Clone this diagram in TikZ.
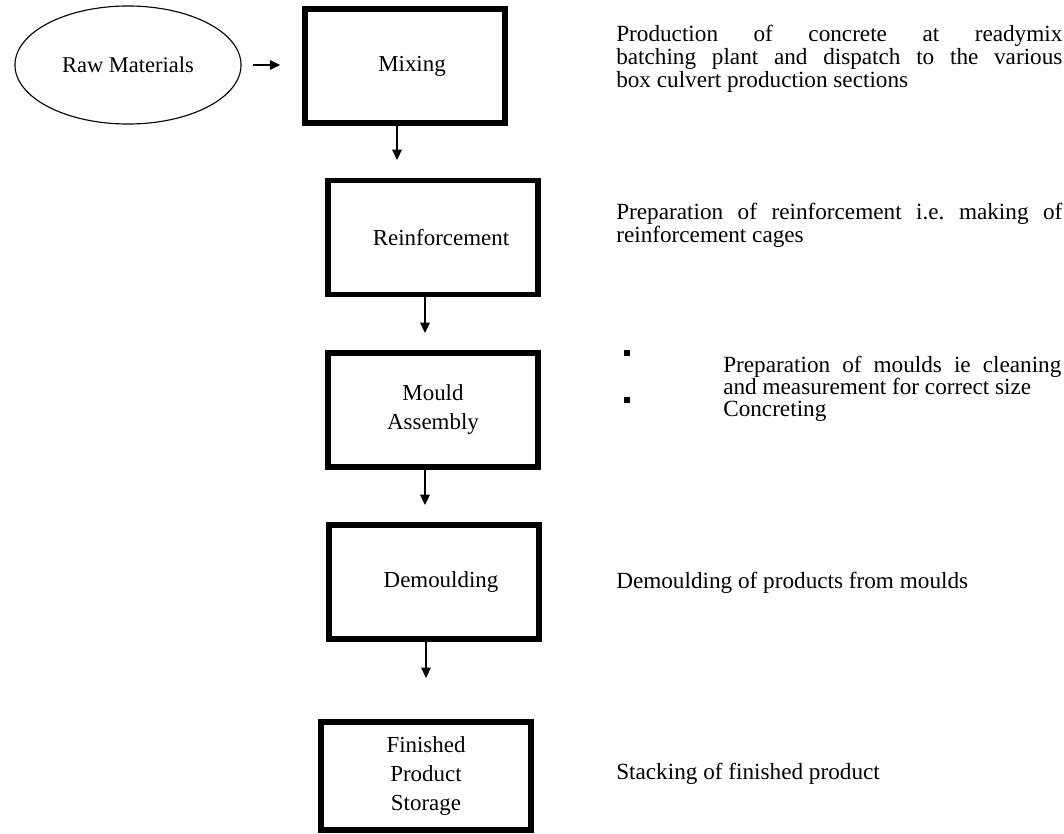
\documentclass[tikz,border=0pt]{standalone}
\usepackage{fontspec}
\setmainfont{Liberation Serif}
\frenchspacing
\usetikzlibrary{shapes.geometric, arrows.meta, positioning}
\definecolor{lineColor}{RGB}{0, 0, 0}
\tikzset{
    font=\fontsize{16.5pt}{16.3pt}\selectfont,
    % --- process box ---
    stepBox/.style={
        rectangle, draw=lineColor, line width=4pt, fill=white,
        minimum width=5.25cm, minimum height=2.85cm,
        align=center, font=\fontsize{16.3pt}{20.6pt}\selectfont
    },
    % nudge the label a little to the right inside its box
    nudgeRight/.style={
        execute at begin node={\hspace*{#1}}
    },
    % --- input ellipse ---
    inputOval/.style={
        ellipse, draw=lineColor, line width=0.8pt,
        minimum width=5.65cm, minimum height=2.95cm,
        font=\fontsize{16pt}{18pt}\selectfont
    },
    % --- arrows ---
    flowArrow/.style={
        draw=lineColor, line width=1pt,
        -{Triangle[length=2.6mm, width=2.4mm]}
    },
    % --- notes on the right ---
    noteText/.style={
        anchor=base west, inner sep=0pt, align=left
    },
    noteBlock/.style={
        noteText, text width=#1, align=justify
    },
    bulletMark/.style={
        rectangle, fill=lineColor, minimum size=0.15cm, inner sep=0pt
    }
}

\begin{document}
\begin{tikzpicture}[x=0.025cm, y=-0.025cm]

	\useasboundingbox (0,0) rectangle (1064,834);

	% =========================================
	% 1. process chain
	% =========================================

	\node[inputOval] (raw) at (128, 65) {Raw Materials};

	\node[stepBox, minimum width=5cm, nudgeRight=0.35cm] (mix) at (405, 66) {Mixing};
	\node[stepBox, nudgeRight=0.4cm] (reinf) at (433, 237.5) {Reinforcement};
	\node[stepBox] (mould) at (433, 410) {Mould\\Assembly};
	\node[stepBox, nudgeRight=0.35cm] (demould) at (434, 582) {Demoulding};
	\node[stepBox, minimum height=2.7cm] (store) at (426, 776) {Finished\\Product\\Storage};

	% arrow tips below each box
	\coordinate (tipMix) at (397, 160);
	\coordinate (tipReinf) at (425, 333);
	\coordinate (tipMould) at (425, 505);
	\coordinate (tipDemould) at (426, 678);

	\draw[flowArrow] ([xshift=0.28cm]raw.east) -- ([xshift=-0.55cm]mix.west |- raw.east);
	\draw[flowArrow] (mix.south -| tipMix) -- (tipMix);
	\draw[flowArrow] (reinf.south -| tipReinf) -- (tipReinf);
	\draw[flowArrow] (mould.south -| tipMould) -- (tipMould);
	\draw[flowArrow] (demould.south -| tipDemould) -- (tipDemould);

	% =========================================
	% 2. notes
	% =========================================

	\node[noteBlock=11.15cm] (noteMix) at (616, 42) {
		Production of concrete at readymix\linebreak
		batching plant and dispatch to the various\linebreak
		box culvert production sections
	};

	\node[noteBlock=11.15cm] (noteReinf) at (616, 220) {
		Preparation of reinforcement i.e. making of\linebreak
		reinforcement cages
	};

	\node[bulletMark] (dotA) at (627, 353) {};
	\node[noteBlock=8.45cm] (noteMould) at (723, 372) {
		Preparation of moulds ie cleaning\linebreak
		and measurement for correct size
	};
	\node[bulletMark] (dotB) at (627, 400) {};
	\node[noteText] (noteConc) at (723, 416) {Concreting};

	\node[noteText] (noteDemould) at (616, 588) {Demoulding of products from moulds};

	\node[noteText] (noteStore) at (616, 779) {Stacking of finished product};

\end{tikzpicture}
\end{document}
